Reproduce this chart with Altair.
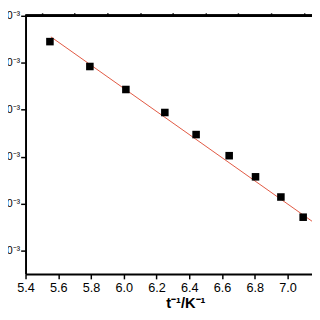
import altair as alt
import pandas as pd

# data
inv_t = [5.549, 5.793, 6.013, 6.251, 6.442, 6.644, 6.805, 6.960, 7.096]
val = [5.45, 4.92, 4.43, 3.94, 3.47, 3.02, 2.57, 2.14, 1.71]
fit_x = [5.555, 7.30]
fit_y = [5.551, 1.255]
x_major = [5.4, 5.6, 5.8, 6.0, 6.2, 6.4, 6.6, 6.8, 7.0, 7.2]
x_minor = [5.5, 5.7, 5.9, 6.1, 6.3, 6.5, 6.7, 6.9, 7.1]
y_major = [1, 2, 3, 4, 5, 6]
y_minor = [0.5, 1.5, 2.5, 3.5, 4.5, 5.5]
y_label = "0⁻³"
x_title = "t⁻¹/K⁻¹"

pts = pd.DataFrame({"x": inv_t, "y": val})
fit = pd.DataFrame({"x": fit_x, "y": fit_y})

W, H = 294, 265
xs = alt.Scale(domain=[5.4, 7.15], nice=False, zero=False)
ys = alt.Scale(domain=[0.5, 6.0], nice=False, zero=False)
FONT = "Liberation Sans"

line = alt.Chart(fit).mark_line(color="#e0553f", strokeWidth=1, clip=True).encode(
    x=alt.X("x:Q", scale=xs, axis=alt.Axis(
        values=x_major, format=".1f", title=x_title, grid=False,
        domainColor="black", domainWidth=2, tickColor="black", tickWidth=1.5,
        tickSize=5, labelPadding=3, labelFont=FONT, labelFontSize=13,
        labelColor="black", labelFlush=False,
        titleFont=FONT, titleFontSize=15, titleFontWeight="bold", titleColor="black",
        titleX=164, titleY=34, titleBaseline="alphabetic", titleAnchor="middle")),
    y=alt.Y("y:Q", scale=ys, axis=alt.Axis(
        values=y_major, labelExpr=f"'{y_label}'", title=None, grid=False,
        domainColor="black", domainWidth=2, tickColor="black", tickWidth=1.5,
        tickSize=5, labelPadding=1, labelFont=FONT, labelFontSize=11,
        labelColor="black", labelFlush=False)),
)

points = alt.Chart(pts).mark_square(color="black", size=60, opacity=1).encode(
    x=alt.X("x:Q", scale=xs, axis=alt.Axis(
        values=x_minor, labels=False, domain=False, title=None, grid=False,
        tickColor="black", tickWidth=1.5, tickSize=3)),
    y=alt.Y("y:Q", scale=ys, axis=alt.Axis(
        values=y_minor, labels=False, domain=False, title=None, grid=False,
        tickColor="black", tickWidth=1.5, tickSize=3)),
)

top = alt.Chart(pts).mark_rule(color="black", strokeWidth=2).encode(
    x=alt.value(0), x2=alt.value(W), y=alt.value(0)
)

chart = alt.layer(line, points, top).resolve_axis(
    x="independent", y="independent"
).properties(
    width=W, height=H,
    autosize=alt.AutoSizeParams(type="none"),
    padding={"left": 18, "top": 4, "right": 0, "bottom": 35},
).configure_view(stroke=None)

chart.save("out.html", embed_options={"renderer": "svg", "actions": False})
